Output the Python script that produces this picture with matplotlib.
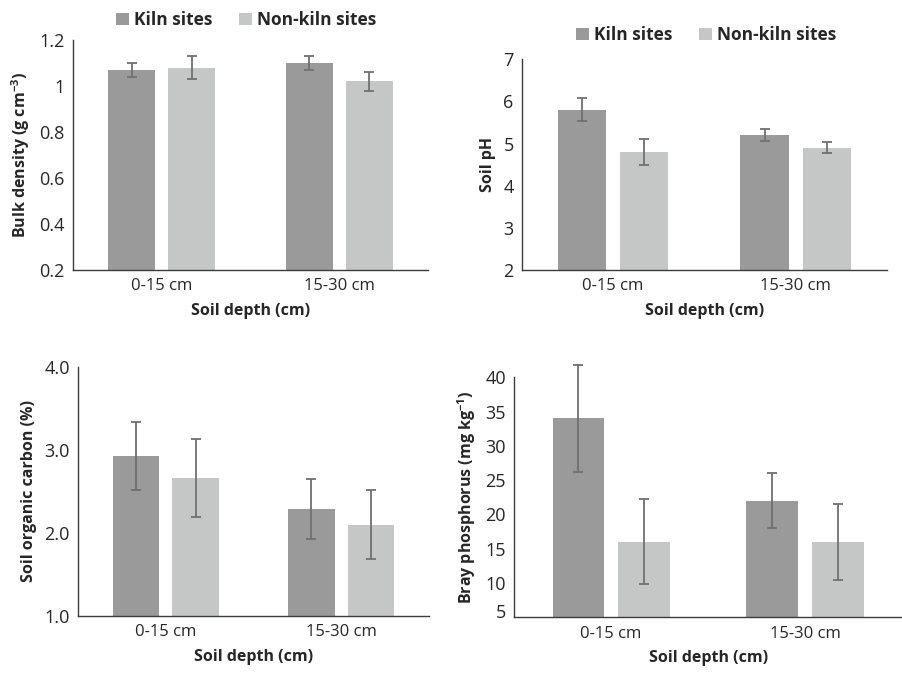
import matplotlib
matplotlib.use("Agg")
import matplotlib.pyplot as plt
import matplotlib.transforms as mtrans
import numpy as np

plt.rcParams['font.family'] = ['Open Sans', 'DejaVu Sans']
plt.rcParams['mathtext.fontset'] = 'custom'
plt.rcParams['mathtext.rm'] = 'Open Sans'
plt.rcParams['mathtext.bf'] = 'Open Sans:bold'

depths = ["0-15 cm", "15-30 cm"]
series = ["Kiln sites", "Non-kiln sites"]

bd_kiln = [1.07, 1.10]
bd_kiln_err = [0.03, 0.03]
bd_non = [1.08, 1.02]
bd_non_err = [0.05, 0.04]

ph_kiln = [5.8, 5.2]
ph_kiln_err = [0.27, 0.15]
ph_non = [4.8, 4.9]
ph_non_err = [0.31, 0.13]

soc_kiln = [2.92, 2.29]
soc_kiln_err = [0.41, 0.36]
soc_non = [2.66, 2.10]
soc_non_err = [0.47, 0.42]

p_kiln = [34.0, 22.0]
p_kiln_err = [7.8, 4.0]
p_non = [16.0, 16.0]
p_non_err = [6.2, 5.6]

C_KILN = "#9a9a9a"
C_NON = "#c5c7c6"
C_ERR = "#707070"
C_TXT = "#262626"
C_SPINE = "#3c3c3c"

fig = plt.figure(figsize=(9.03, 6.76), dpi=100)

panels = [
    dict(rect=[0.0808, 0.6006, 0.3931, 0.3402], k=bd_kiln, ke=bd_kiln_err, n=bd_non, ne=bd_non_err,
         ylim=(0.2, 1.2), ticks=[0.2, 0.4, 0.6, 0.8, 1.0, 1.2], labels=["0.2", "0.4", "0.6", "0.8", "1", "1.2"],
         ylabel=r"Bulk density (g cm$^{\mathbf{-3}}$)"),
    dict(rect=[0.578, 0.6006, 0.4042, 0.3117], k=ph_kiln, ke=ph_kiln_err, n=ph_non, ne=ph_non_err,
         ylim=(2, 7), ticks=[2, 3, 4, 5, 6, 7], labels=["2", "3", "4", "5", "6", "7"],
         ylabel="Soil pH"),
    dict(rect=[0.0864, 0.0888, 0.3887, 0.3688], k=soc_kiln, ke=soc_kiln_err, n=soc_non, ne=soc_non_err,
         ylim=(1.0, 4.0), ticks=[1.0, 2.0, 3.0, 4.0], labels=["1.0", "2.0", "3.0", "4.0"],
         ylabel="Soil organic carbon (%)"),
    dict(rect=[0.5695, 0.0868, 0.4293, 0.355], k=p_kiln, ke=p_kiln_err, n=p_non, ne=p_non_err,
         ylim=(5, 40), ticks=[5, 10, 15, 20, 25, 30, 35, 40], labels=["5", "10", "15", "20", "25", "30", "35", "40"],
         ylabel=r"Bray phosphorus (mg kg$^{\mathbf{-1}}$)"),
]

x = np.arange(len(depths))
w = 0.265
off = 0.17
axes = []
for i, p in enumerate(panels):
    ax = fig.add_axes(p["rect"])
    axes.append(ax)
    ekw = dict(ecolor=C_ERR, elinewidth=1.3, capsize=3.5, capthick=1.3, clip_on=False)
    b1 = ax.bar(x - off, p["k"], width=w, color=C_KILN, yerr=p["ke"], error_kw=ekw,
                label=series[0], zorder=2)
    b2 = ax.bar(x + off, p["n"], width=w, color=C_NON, yerr=p["ne"], error_kw=ekw,
                label=series[1], zorder=2)
    ax.set_xlim(-0.5, 1.5)
    ax.set_ylim(*p["ylim"])
    ax.set_yticks(p["ticks"])
    ax.set_yticklabels(p["labels"])
    ax.set_xticks(x)
    ax.set_xticklabels(depths)
    ax.tick_params(axis='x', length=0, labelsize=12, colors=C_TXT, pad=6)
    ax.tick_params(axis='y', length=0, labelsize=13, colors=C_TXT, pad=6)
    for s in ("top", "right"):
        ax.spines[s].set_visible(False)
    for s in ("left", "bottom"):
        ax.spines[s].set_color(C_SPINE)
        ax.spines[s].set_linewidth(1.0)
    ax.set_ylabel(p["ylabel"], fontsize=11.5, fontweight='bold', color=C_TXT, labelpad=5)
    ax.set_xlabel("Soil depth (cm)", fontsize=11.5, fontweight='bold', color=C_TXT, labelpad=6)
    ax.set_facecolor("none")

# shift the lowest label of the phosphorus panel slightly up
lbl = axes[3].get_yticklabels()[0]
lbl.set_transform(lbl.get_transform() + mtrans.ScaledTranslation(0, 6 / 100, fig.dpi_scale_trans))

for ax, (cx, cy) in zip(axes[:2], [(246, 20), (706, 35)]):
    ax.legend(loc='center', bbox_to_anchor=(cx / 903, 1 - cy / 676), bbox_transform=fig.transFigure,
              ncol=2, frameon=False, prop=dict(size=12.5, weight='bold'), labelcolor=C_TXT,
              handlelength=0.75, handleheight=0.75, handletextpad=0.3, columnspacing=1.5,
              borderaxespad=0, borderpad=0)

fig.savefig("out.png", dpi=100, facecolor="white")
